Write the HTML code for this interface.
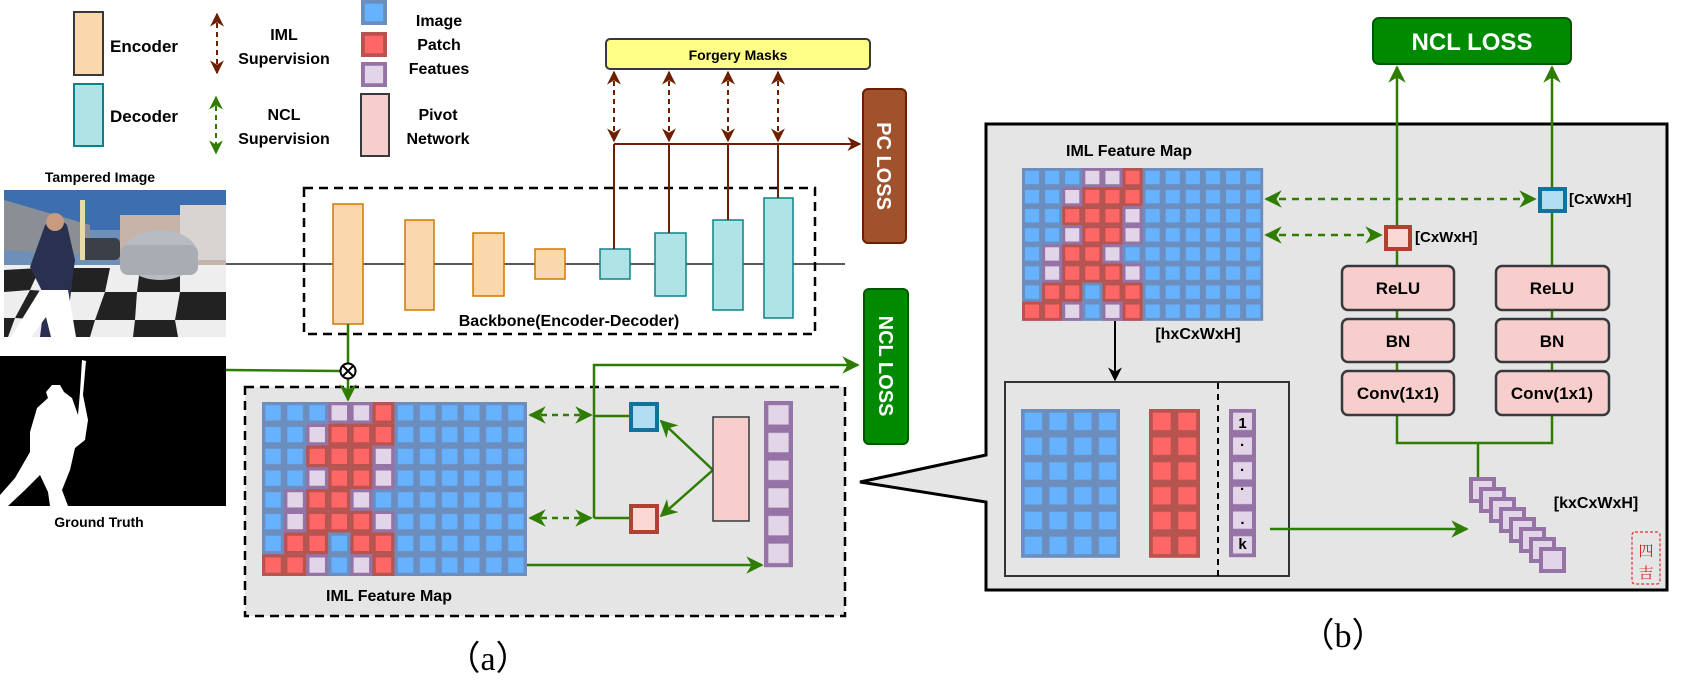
<!DOCTYPE html>
<html><head><meta charset="utf-8"><style>
html,body{margin:0;padding:0;background:#fff;}
svg{display:block;font-family:"Liberation Sans",sans-serif;}
.b{font-weight:bold;}
</style></head><body>
<svg width="1683" height="688" viewBox="0 0 1683 688" xmlns="http://www.w3.org/2000/svg">
<defs>
<pattern id="bp" width="1" height="1" patternUnits="userSpaceOnUse"><rect width="1" height="1" fill="#6c8ebf"/><rect x=".15" y=".15" width=".7" height=".7" fill="#66b2ff"/></pattern>
<pattern id="rp" width="1" height="1" patternUnits="userSpaceOnUse"><rect width="1" height="1" fill="#b85450"/><rect x=".15" y=".15" width=".7" height=".7" fill="#ff6666"/></pattern>
<pattern id="pp" width="1" height="1" patternUnits="userSpaceOnUse"><rect width="1" height="1" fill="#9673a6"/><rect x=".15" y=".15" width=".7" height=".7" fill="#e1d5e7"/></pattern>
<g id="r"><rect width="1" height="1" fill="#b85450"/><rect x=".15" y=".15" width=".7" height=".7" fill="#ff6666"/></g>
<g id="p"><rect width="1" height="1" fill="#9673a6"/><rect x=".15" y=".15" width=".7" height=".7" fill="#e1d5e7"/></g>
<g id="grid">
<rect width="12" height="8" fill="url(#bp)"/>
<use href="#p" x="3" y="0"/><use href="#p" x="4" y="0"/><use href="#r" x="5" y="0"/>
<use href="#p" x="2" y="1"/><use href="#r" x="3" y="1"/><use href="#r" x="4" y="1"/><use href="#r" x="5" y="1"/>
<use href="#r" x="2" y="2"/><use href="#r" x="3" y="2"/><use href="#r" x="4" y="2"/><use href="#p" x="5" y="2"/>
<use href="#p" x="2" y="3"/><use href="#r" x="3" y="3"/><use href="#r" x="4" y="3"/><use href="#p" x="5" y="3"/>
<use href="#p" x="1" y="4"/><use href="#r" x="2" y="4"/><use href="#r" x="3" y="4"/><use href="#p" x="4" y="4"/>
<use href="#p" x="1" y="5"/><use href="#r" x="2" y="5"/><use href="#r" x="3" y="5"/><use href="#r" x="4" y="5"/><use href="#p" x="5" y="5"/>
<use href="#r" x="1" y="6"/><use href="#r" x="2" y="6"/><use href="#r" x="4" y="6"/><use href="#r" x="5" y="6"/>
<use href="#r" x="0" y="7"/><use href="#r" x="1" y="7"/><use href="#p" x="2" y="7"/><use href="#p" x="4" y="7"/><use href="#r" x="5" y="7"/>
</g>
<marker id="ab" viewBox="0 0 10 10" refX="9" refY="5" markerWidth="7" markerHeight="7" orient="auto-start-reverse"><path d="M0,0 L10,5 L0,10 L3,5z" fill="#6d1f00"/></marker>
<marker id="ag" viewBox="0 0 10 10" refX="9" refY="5" markerWidth="7" markerHeight="7" orient="auto-start-reverse"><path d="M0,0 L10,5 L0,10 L3,5z" fill="#2e7d00"/></marker>
<marker id="ak" viewBox="0 0 10 10" refX="9" refY="5" markerWidth="7" markerHeight="7" orient="auto-start-reverse"><path d="M0,0 L10,5 L0,10 L3,5z" fill="#000"/></marker>
</defs>

<!-- Legend -->
<rect x="74" y="12" width="29" height="63" fill="#fad7ac" stroke="#36393d" stroke-width="2"/>
<text x="110" y="52" class="b" font-size="17">Encoder</text>
<rect x="74" y="84" width="29" height="62" fill="#b0e3e6" stroke="#0e8088" stroke-width="2"/>
<text x="110" y="122" class="b" font-size="17">Decoder</text>
<line x1="217" y1="14" x2="217" y2="73" stroke="#6d1f00" stroke-width="2" stroke-dasharray="5,4" marker-start="url(#ab)" marker-end="url(#ab)"/>
<text x="284" y="40" class="b" font-size="16" text-anchor="middle">IML</text>
<text x="284" y="64" class="b" font-size="16" text-anchor="middle">Supervision</text>
<line x1="216" y1="97" x2="216" y2="153" stroke="#2e7d00" stroke-width="2" stroke-dasharray="5,4" marker-start="url(#ag)" marker-end="url(#ag)"/>
<text x="284" y="120" class="b" font-size="16" text-anchor="middle">NCL</text>
<text x="284" y="144" class="b" font-size="16" text-anchor="middle">Supervision</text>
<g transform="translate(361,0) scale(26,25)"><rect width="1" height="1" fill="url(#bp)"/></g>
<g transform="translate(361,32) scale(26,25)"><use href="#r"/></g>
<g transform="translate(361,62) scale(26,25)"><use href="#p"/></g>
<text x="439" y="26" class="b" font-size="16" text-anchor="middle">Image</text>
<text x="439" y="50" class="b" font-size="16" text-anchor="middle">Patch</text>
<text x="439" y="74" class="b" font-size="16" text-anchor="middle">Featues</text>
<rect x="361" y="94" width="28" height="62" fill="#f8cecc" stroke="#36393d" stroke-width="2"/>
<text x="438" y="120" class="b" font-size="16" text-anchor="middle">Pivot</text>
<text x="438" y="144" class="b" font-size="16" text-anchor="middle">Network</text>

<!-- Tampered image -->
<text x="100" y="182" class="b" font-size="14" text-anchor="middle">Tampered Image</text>
<rect x="4" y="190" width="222" height="147" fill="#6d8fb8"/>
<rect x="4" y="190" width="222" height="40" fill="#3d6fb0"/>
<polygon points="4,200 90,225 90,255 4,250" fill="#8a8f96"/>
<rect x="120" y="215" width="106" height="50" fill="#c8b3a8"/>
<rect x="180" y="205" width="46" height="55" fill="#d8d4d2"/>
<rect x="4" y="265" width="222" height="72" fill="#eee"/>
<g fill="#222">
<polygon points="4,270 40,268 30,290 4,292"/><polygon points="70,268 110,268 105,292 62,292"/><polygon points="140,268 180,268 180,292 137,292"/>
<polygon points="30,290 62,292 50,320 15,318"/><polygon points="105,292 137,292 135,320 95,320"/><polygon points="180,292 226,292 226,320 175,320"/>
<polygon points="4,318 15,318 8,337 4,337"/><polygon points="50,320 95,320 90,337 42,337"/><polygon points="135,320 175,320 178,337 133,337"/>
</g>
<ellipse cx="160" cy="255" rx="38" ry="25" fill="#b8bcc2"/>
<rect x="120" y="245" width="78" height="30" rx="8" fill="#a9adb3"/>
<rect x="80" y="238" width="40" height="22" rx="5" fill="#3b3f48"/>
<path d="M45,225 q12,-10 22,0 l8,35 l-5,40 l-10,37 h-20 l5,-40 l-15,-30 z" fill="#2a3050"/>
<path d="M40,290 l28,0 l8,47 h-25 l-5,-20 l-15,20 h-20 z" fill="#fff"/>
<circle cx="55" cy="222" r="9" fill="#c89a80"/>
<rect x="80" y="200" width="5" height="60" fill="#e8d9a8"/>

<!-- Ground truth -->
<rect x="0" y="356" width="226" height="150" fill="#000"/>
<path d="M82,360 L86,361 L83,395 L88,420 L85,440 L75,448 L70,470 L62,490 L68,506 L50,506 L48,492 L40,475 L25,490 L8,506 L0,506 L0,495 L15,478 L30,452 L30,432 L37,408 L48,398 L46,392 L52,385 L60,385 L64,392 L72,398 L78,415 L80,392 Z" fill="#fff"/>
<text x="99" y="527" class="b" font-size="14" text-anchor="middle">Ground Truth</text>

<!-- Backbone -->
<line x1="226" y1="264" x2="845" y2="264" stroke="#222" stroke-width="1.5"/>
<rect x="304" y="188" width="511" height="146" fill="none" stroke="#000" stroke-width="2.5" stroke-dasharray="9,6"/>
<g fill="#fad7ac" stroke="#d07900" stroke-width="1.5">
<rect x="333" y="204" width="30" height="120"/><rect x="405" y="220" width="29" height="90"/><rect x="473" y="233" width="31" height="63"/><rect x="535" y="249" width="30" height="30"/>
</g>
<g fill="#b0e3e6" stroke="#0e8088" stroke-width="1.5">
<rect x="600" y="249" width="30" height="30"/><rect x="655" y="233" width="31" height="63"/><rect x="713" y="220" width="30" height="90"/><rect x="764" y="198" width="29" height="120"/>
</g>
<text x="569" y="326" class="b" font-size="16" text-anchor="middle">Backbone(Encoder-Decoder)</text>

<!-- Forgery masks & PC -->
<rect x="606" y="39" width="264" height="30" rx="4" fill="#ffff88" stroke="#36393d" stroke-width="2"/>
<text x="738" y="60" class="b" font-size="14" text-anchor="middle">Forgery Masks</text>
<g stroke="#6d1f00" stroke-width="2">
<line x1="614" y1="72" x2="614" y2="141" stroke-dasharray="5,4" marker-start="url(#ab)" marker-end="url(#ab)"/>
<line x1="669" y1="72" x2="669" y2="141" stroke-dasharray="5,4" marker-start="url(#ab)" marker-end="url(#ab)"/>
<line x1="728" y1="72" x2="728" y2="141" stroke-dasharray="5,4" marker-start="url(#ab)" marker-end="url(#ab)"/>
<line x1="778" y1="72" x2="778" y2="141" stroke-dasharray="5,4" marker-start="url(#ab)" marker-end="url(#ab)"/>
<line x1="614" y1="144" x2="860" y2="144" marker-end="url(#ab)"/>
<line x1="614" y1="144" x2="614" y2="249"/><line x1="669" y1="144" x2="669" y2="233"/><line x1="728" y1="144" x2="728" y2="220"/><line x1="778" y1="144" x2="778" y2="198"/>
</g>
<rect x="863" y="89" width="43" height="154" rx="5" fill="#a0522d" stroke="#6d1f00" stroke-width="2"/>
<text transform="translate(884,166) rotate(90)" class="b" font-size="20" fill="#fff" text-anchor="middle" dy="7">PC LOSS</text>
<rect x="864" y="289" width="44" height="155" rx="5" fill="#008a00" stroke="#005700" stroke-width="2"/>
<text transform="translate(886,366) rotate(90)" class="b" font-size="20" fill="#fff" text-anchor="middle" dy="7">NCL LOSS</text>

<!-- Left feature area -->
<rect x="245" y="387" width="600" height="229" fill="#e5e5e5" stroke="#000" stroke-width="2.5" stroke-dasharray="9,6"/>
<g stroke="#2e7d00" stroke-width="2.5" fill="none">
<polyline points="226,370 340,371"/>
<line x1="348" y1="324" x2="348" y2="364"/>
<line x1="348" y1="379" x2="348" y2="400" marker-end="url(#ag)"/>
</g>
<circle cx="348" cy="371" r="7.5" fill="#fff" stroke="#000" stroke-width="2"/>
<path d="M343,366 L353,376 M353,366 L343,376" stroke="#000" stroke-width="2"/>
<use href="#grid" transform="translate(262,402) scale(22.08,21.75)"/>
<g stroke="#2e7d00" stroke-width="2.5" fill="none">
<line x1="530" y1="415" x2="591" y2="415" stroke-dasharray="6,5" marker-start="url(#ag)" marker-end="url(#ag)"/>
<line x1="530" y1="518" x2="591" y2="518" stroke-dasharray="6,5" marker-start="url(#ag)" marker-end="url(#ag)"/>
<polyline points="594,518 594,365 858,365" marker-end="url(#ag)"/>
<line x1="594" y1="416" x2="629" y2="416"/><line x1="594" y1="518" x2="629" y2="518"/>
<line x1="713" y1="470" x2="661" y2="421" marker-end="url(#ag)"/>
<line x1="713" y1="470" x2="661" y2="516" marker-end="url(#ag)"/>
<line x1="527" y1="565" x2="762" y2="565" marker-end="url(#ag)"/>
</g>
<rect x="631" y="404" width="26" height="26" fill="#b1ddf0" stroke="#10739e" stroke-width="4"/>
<rect x="631" y="506" width="26" height="26" fill="#fad9d5" stroke="#ae4132" stroke-width="4"/>
<rect x="713" y="417" width="36" height="104" fill="#f8cecc" stroke="#36393d" stroke-width="1.5"/>
<g transform="translate(764,401) scale(29,27.7)"><rect width="1" height="6" fill="url(#pp)"/></g>
<text x="389" y="601" class="b" font-size="16" text-anchor="middle">IML Feature Map</text>
<text x="488" y="670" font-family="Liberation Serif,serif" font-size="34" text-anchor="middle">（a）</text>

<!-- Panel b -->
<polygon points="986,124 1667,124 1667,590 986,590 986,502 860,482 986,455" fill="#e5e5e5" stroke="#000" stroke-width="3"/>
<rect x="1373" y="18" width="198" height="46" rx="6" fill="#008a00" stroke="#005700" stroke-width="2"/>
<text x="1472" y="50" class="b" font-size="24" fill="#fff" text-anchor="middle">NCL LOSS</text>
<text x="1129" y="156" class="b" font-size="16" text-anchor="middle">IML Feature Map</text>
<use href="#grid" transform="translate(1022,168) scale(20.1,19.1)"/>
<text x="1198" y="339" class="b" font-size="16" text-anchor="middle">[hxCxWxH]</text>
<line x1="1115" y1="321" x2="1115" y2="380" stroke="#000" stroke-width="2" marker-end="url(#ak)"/>
<rect x="1005" y="382" width="284" height="194" fill="#e5e5e5" stroke="#333" stroke-width="2"/>
<g transform="translate(1021,409) scale(24.75,24.8)"><rect width="4" height="6" fill="url(#bp)"/></g>
<g transform="translate(1149,409) scale(25.5,24.8)"><rect width="2" height="6" fill="url(#rp)"/></g>
<line x1="1218" y1="383" x2="1218" y2="576" stroke="#000" stroke-width="2" stroke-dasharray="6,5"/>
<g transform="translate(1229,409) scale(27,24.7)"><rect width="1" height="6" fill="url(#pp)"/></g>
<g class="b" font-size="15" text-anchor="middle">
<text x="1242.5" y="428">1</text><text x="1242.5" y="450">·</text><text x="1242.5" y="475">·</text><text x="1242.5" y="494">·</text><text x="1242.5" y="524">.</text><text x="1242.5" y="549">k</text>
</g>
<g stroke="#2e7d00" stroke-width="2.5" fill="none">
<line x1="1270" y1="529" x2="1467" y2="529" marker-end="url(#ag)"/>
<line x1="1397" y1="225" x2="1397" y2="67" marker-end="url(#ag)"/>
<line x1="1552" y1="187" x2="1552" y2="67" marker-end="url(#ag)"/>
<line x1="1397" y1="250" x2="1397" y2="266"/><line x1="1552" y1="212" x2="1552" y2="266"/>
<line x1="1397" y1="310" x2="1397" y2="371"/><line x1="1552" y1="310" x2="1552" y2="371"/>
<polyline points="1397,415 1397,443 1552,443 1552,415"/>
<line x1="1478" y1="443" x2="1478" y2="478"/>
<line x1="1266" y1="199" x2="1535" y2="199" stroke-dasharray="7,6" marker-start="url(#ag)" marker-end="url(#ag)"/>
<line x1="1266" y1="235" x2="1381" y2="235" stroke-dasharray="7,6" marker-start="url(#ag)" marker-end="url(#ag)"/>
</g>
<rect x="1386" y="227" width="24" height="22" fill="#fad9d5" stroke="#ae4132" stroke-width="4"/>
<rect x="1540" y="189" width="25" height="22" fill="#b1ddf0" stroke="#10739e" stroke-width="4"/>
<text x="1415" y="242" class="b" font-size="15">[CxWxH]</text>
<text x="1569" y="204" class="b" font-size="15">[CxWxH]</text>
<g fill="#f8cecc" stroke="#36393d" stroke-width="2.5">
<rect x="1342" y="266" width="112" height="44" rx="6"/><rect x="1342" y="319" width="112" height="43" rx="6"/><rect x="1342" y="371" width="112" height="44" rx="6"/>
<rect x="1496" y="266" width="113" height="44" rx="6"/><rect x="1496" y="319" width="113" height="43" rx="6"/><rect x="1496" y="371" width="113" height="44" rx="6"/>
</g>
<g class="b" font-size="17" text-anchor="middle">
<text x="1398" y="294">ReLU</text><text x="1398" y="347">BN</text><text x="1398" y="399">Conv(1x1)</text>
<text x="1552" y="294">ReLU</text><text x="1552" y="347">BN</text><text x="1552" y="399">Conv(1x1)</text>
</g>
<g fill="#e1d5e7" stroke="#9673a6" stroke-width="4">
<rect x="1471" y="479" width="23" height="22"/><rect x="1481" y="489" width="23" height="22"/><rect x="1491" y="499" width="23" height="22"/><rect x="1501" y="509" width="23" height="22"/>
<rect x="1511" y="519" width="23" height="22"/><rect x="1521" y="529" width="23" height="22"/><rect x="1531" y="539" width="23" height="22"/><rect x="1541" y="549" width="23" height="22"/>
</g>
<text x="1596" y="508" class="b" font-size="16" text-anchor="middle">[kxCxWxH]</text>
<rect x="1632" y="532" width="28" height="52" rx="3" fill="none" stroke="#e03030" stroke-width="1.2" stroke-dasharray="3,2"/>
<text x="1646" y="556" font-size="15" fill="#d02020" text-anchor="middle" font-family="Liberation Serif,Noto Serif CJK SC,serif">四</text>
<text x="1646" y="578" font-size="15" fill="#d02020" text-anchor="middle" font-family="Liberation Serif,Noto Serif CJK SC,serif">吉</text>
<text x="1343" y="647" font-family="Liberation Serif,serif" font-size="34" text-anchor="middle">（b）</text>
</svg>
</body></html>
